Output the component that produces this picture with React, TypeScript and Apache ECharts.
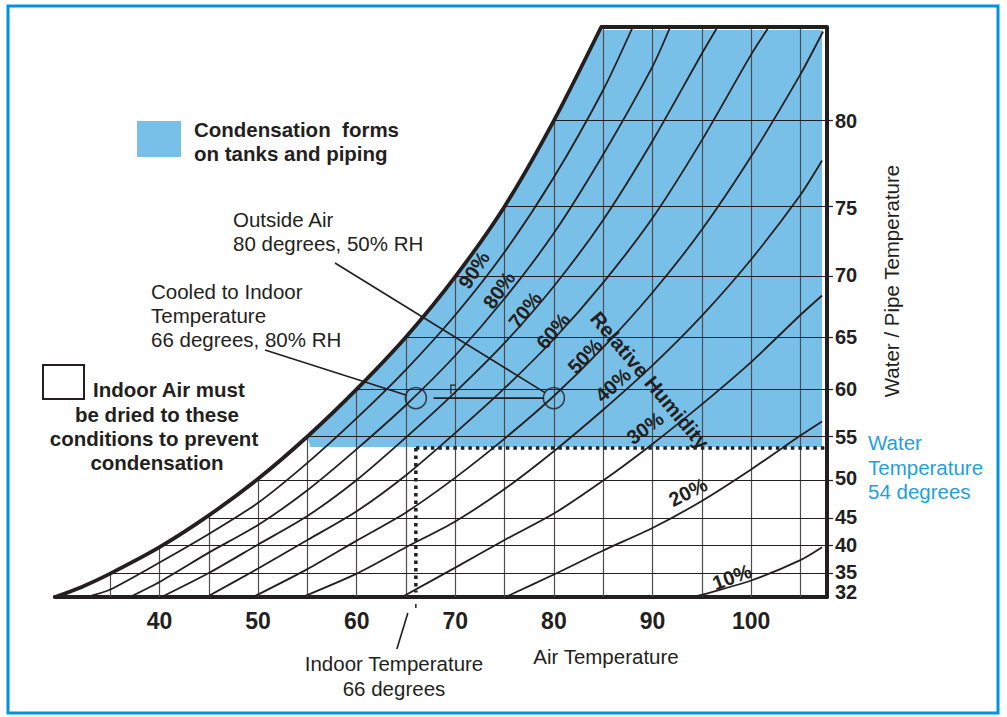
import React, { useEffect, useRef } from "react";
import * as echarts from "echarts";

const FONT = '"Liberation Sans", Arial, Helvetica, sans-serif';
const INK = "#231f20";
const BLUE_FILL = "#79c0e9";
const BLUE_TEXT = "#1f9fdc";
const FRAME_BLUE = "#0095da";

const X_MIN = 29.4;
const X_MAX = 107.7;
const Y_MAX = 190;

// Air temperature (x) tick labels and grid temperatures
const airTempTicks = [40, 50, 60, 70, 80, 90, 100];
const gridTemps = [35, 40, 45, 50, 55, 60, 65, 70, 75, 80, 85, 90, 95, 100, 105];

// Water / pipe (dew point) scale (chart moisture units)
const dewLabels = [32, 35, 40, 45, 50, 55, 60, 65, 70, 75, 80];
const dewLabelPos = [1.7, 8.4, 17.3, 26.8, 39.7, 53.4, 69.3, 86.8, 107.3, 129.7, 158.8];
const dewLineTemps = [35, 40, 45, 50, 55, 60, 65, 70, 75, 80];
const dewLinePos = [7.8, 17.2, 26.3, 38.8, 53.5, 69.3, 86.7, 106.8, 130.2, 158.8];

// Saturation (100 %) curve
const satTemps = [29.4, 32, 35, 40, 45, 50, 55, 60, 65, 70, 75, 80, 84.8];
const satPos = [0, 3.2, 7.8, 16.6, 27.2, 39.4, 53.5, 69.3, 86.7, 106.8, 130.2, 158.8, 190];

// Relative humidity curves
const rh90Temps = [32.6, 35, 40, 45, 50, 55, 60, 65, 70, 75, 80, 85, 88];
const rh90Pos = [0, 2.5, 11.5, 21.0, 31.4, 44.7, 59.6, 75.8, 94.0, 115.0, 139.9, 169.0, 190];
const rh80Temps = [37.0, 40, 45, 50, 55, 60, 65, 70, 75, 80, 85, 90, 91.8];
const rh80Pos = [0, 5.0, 14.8, 24.0, 35.6, 49.3, 64.0, 80.5, 99.5, 121.3, 147.5, 176.8, 190];
const rh70Temps = [40.2, 45, 50, 55, 60, 65, 70, 75, 80, 85, 90, 95, 96.6];
const rh70Pos = [0, 8.0, 17.5, 27.0, 39.0, 53.2, 68.3, 84.7, 103.6, 125.7, 152.0, 181.1, 190];
const rh60Temps = [44.8, 50, 55, 60, 65, 70, 75, 80, 85, 90, 95, 100, 101.8];
const rh60Pos = [0, 9.5, 19.0, 28.6, 40.6, 54.7, 69.6, 86.0, 104.8, 126.3, 152.2, 180.8, 190];
const rh50Temps = [49.5, 55, 60, 65, 70, 75, 80, 85, 90, 95, 100, 105, 107.3];
const rh50Pos = [0, 9.3, 18.8, 28.2, 39.8, 52.8, 67.0, 83.2, 101.5, 122.4, 146.8, 174.2, 188.5];
const rh40Temps = [54.5, 60, 65, 70, 75, 80, 85, 90, 95, 100, 105, 107.2];
const rh40Pos = [0, 7.8, 16.6, 25.2, 36.0, 48.6, 62.4, 77.2, 93.7, 112.5, 134.0, 145.5];
const rh30Temps = [64.6, 70, 75, 80, 85, 90, 95, 100, 105, 107.2];
const rh30Pos = [0, 9.8, 19.0, 27.8, 38.8, 51.0, 64.2, 78.3, 94.0, 100.5];
const rh20Temps = [75.1, 80, 85, 90, 95, 100, 105, 107.2];
const rh20Pos = [0, 7.5, 15.5, 23.0, 32.0, 42.5, 53.8, 58.5];
const rh10Temps = [94.1, 95, 100, 105, 107.2];
const rh10Pos = [0, 0.7, 5.5, 12.3, 16.6];

// Condensation region (blue)
const blueTemps = [55.3, 55, 60, 65, 70, 75, 80, 84.8, 107.2, 107.2];
const bluePos = [50, 53.5, 69.3, 86.7, 106.8, 130.2, 158.8, 189, 189, 50];

// Example states
const waterDewPos = 49.7; // 54 degrees water temperature
const indoorTemp = 66;
const outsideTemp = 80;
const statePos = 66.3;

const rhCurves = [
  { t: rh90Temps, y: rh90Pos },
  { t: rh80Temps, y: rh80Pos },
  { t: rh70Temps, y: rh70Pos },
  { t: rh60Temps, y: rh60Pos },
  { t: rh50Temps, y: rh50Pos },
  { t: rh40Temps, y: rh40Pos },
  { t: rh30Temps, y: rh30Pos },
  { t: rh20Temps, y: rh20Pos },
  { t: rh10Temps, y: rh10Pos },
];

const rhLabels = [
  { text: "90%", x: 474, y: 270, deg: 57 },
  { text: "80%", x: 499, y: 290, deg: 55 },
  { text: "70%", x: 525, y: 310, deg: 52 },
  { text: "60%", x: 553, y: 331, deg: 50 },
  { text: "50%", x: 585, y: 356, deg: 46 },
  { text: "40%", x: 613, y: 385, deg: 42 },
  { text: "30%", x: 645, y: 428, deg: 36 },
  { text: "20%", x: 688, y: 492, deg: 27 },
  { text: "10%", x: 732, y: 577, deg: 20 },
];

const zip = (a: number[], b: number[]) => a.map((v, i) => [v, b[i]]);

function txt(text: string, x: number, y: number, opts: any = {}) {
  const align = opts.align || "left";
  return {
    type: "text",
    x,
    y,
    rotation: opts.rotation || 0,
    z: 50,
    style: {
      text,
      fill: opts.color || INK,
      fontSize: opts.size || 20.5,
      fontWeight: opts.bold ? "bold" : "normal",
      fontFamily: FONT,
      textAlign: align,
      align,
      textVerticalAlign: "middle",
      verticalAlign: "middle",
    },
  };
}

export default function App() {
  const ref = useRef<HTMLDivElement>(null);

  useEffect(() => {
    if (!ref.current) return;
    const chart = echarts.init(ref.current, undefined, { renderer: "svg" });

    const vGrid = gridTemps.map((t) => {
      const idx = satTemps.indexOf(t);
      const top = idx >= 0 ? satPos[idx] : Y_MAX;
      return { coords: [[t, 0], [t, top]] };
    });
    const hGrid = dewLineTemps.map((t, i) => ({
      coords: [[t, dewLinePos[i]], [X_MAX, dewLinePos[i]]],
    }));

    const series: any[] = [
      {
        type: "custom",
        z: 1,
        silent: true,
        clip: false,
        data: [[70, 100]],
        renderItem: (_p: any, api: any) => ({
          type: "polygon",
          shape: { points: blueTemps.map((t, i) => api.coord([t, bluePos[i]])) },
          style: { fill: BLUE_FILL, stroke: "none" },
        }),
      },
      {
        type: "lines",
        coordinateSystem: "cartesian2d",
        z: 2,
        silent: true,
        data: vGrid,
        lineStyle: { color: "#4d4d4f", width: 1.2, opacity: 1 },
      },
      {
        type: "lines",
        coordinateSystem: "cartesian2d",
        z: 2,
        silent: true,
        data: hGrid,
        lineStyle: { color: INK, width: 1.2, opacity: 1 },
      },
      ...rhCurves.map((c) => ({
        type: "line",
        z: 3,
        silent: true,
        clip: false,
        showSymbol: false,
        smooth: 0.25,
        data: zip(c.t, c.y),
        lineStyle: { color: INK, width: 1.8 },
      })),
      {
        type: "line",
        z: 5,
        silent: true,
        clip: false,
        showSymbol: false,
        smooth: 0.25,
        data: zip(satTemps, satPos),
        lineStyle: { color: INK, width: 3.8, cap: "round" },
      },
      {
        type: "line",
        z: 5,
        silent: true,
        clip: false,
        showSymbol: false,
        data: [[satTemps[satTemps.length - 1], Y_MAX], [X_MAX, Y_MAX]],
        lineStyle: { color: INK, width: 4 },
      },
      {
        type: "line",
        z: 4,
        silent: true,
        clip: false,
        showSymbol: false,
        data: [[indoorTemp, waterDewPos], [X_MAX, waterDewPos]],
        lineStyle: { color: INK, width: 3.5, type: [3.5, 4], cap: "butt" },
      },
      {
        type: "line",
        z: 4,
        silent: true,
        clip: false,
        showSymbol: false,
        data: [[indoorTemp, waterDewPos], [indoorTemp, 1.5]],
        lineStyle: { color: INK, width: 3.5, type: [3.5, 4], cap: "butt" },
      },
      {
        type: "line",
        z: 6,
        silent: true,
        showSymbol: false,
        data: [[indoorTemp + 1.8, statePos], [outsideTemp - 1.0, statePos]],
        lineStyle: { color: INK, width: 1.8 },
      },
      {
        type: "scatter",
        z: 7,
        silent: true,
        symbol: "circle",
        symbolSize: 21,
        data: [[indoorTemp, statePos], [outsideTemp, statePos]],
        itemStyle: { color: "rgba(0,0,0,0)", borderColor: INK, borderWidth: 1.6 },
      },
    ];

    chart.setOption({
      animation: false,
      backgroundColor: "#ffffff",
      grid: { left: 55, right: 180, top: 27, bottom: 120, containLabel: false },
      xAxis: {
        type: "value",
        min: X_MIN,
        max: X_MAX,
        axisLine: { show: true, lineStyle: { color: INK, width: 4 } },
        axisTick: { show: false },
        splitLine: { show: false },
        axisLabel: {
          customValues: airTempTicks,
          fontSize: 23,
          fontWeight: "bold",
          fontFamily: FONT,
          color: INK,
          margin: 12,
        },
      },
      yAxis: {
        type: "value",
        min: 0,
        max: Y_MAX,
        position: "right",
        axisLine: { show: true, lineStyle: { color: INK, width: 4 } },
        axisTick: {
          show: true,
          customValues: dewLinePos,
          length: 6,
          inside: false,
          lineStyle: { color: INK, width: 1.2 },
        },
        splitLine: { show: false },
        axisLabel: {
          customValues: dewLabelPos,
          formatter: (v: number) => {
            let best = 0;
            dewLabelPos.forEach((p, i) => {
              if (Math.abs(p - v) < Math.abs(dewLabelPos[best] - v)) best = i;
            });
            return String(dewLabels[best]);
          },
          fontSize: 20,
          fontWeight: "bold",
          fontFamily: FONT,
          color: INK,
          margin: 8,
        },
      },
      series,
    });

    const toPx = (p: number[]) => chart.convertToPixel({ gridIndex: 0 }, p) as number[];
    const cIn = toPx([indoorTemp, statePos]);
    const cOut = toPx([outsideTemp, statePos]);
    const base = toPx([indoorTemp, 0]);
    const edge = (from: number[], c: number[], r: number) => {
      const dx = c[0] - from[0];
      const dy = c[1] - from[1];
      const d = Math.sqrt(dx * dx + dy * dy);
      return [c[0] - (dx / d) * r, c[1] - (dy / d) * r];
    };
    const fromOut = [335, 263];
    const fromIn = [265, 350];
    const eOut = edge(fromOut, cOut, 10.5);
    const eIn = edge(fromIn, cIn, 10.5);

    const graphic: any[] = [
      {
        type: "rect",
        z: 0,
        silent: true,
        shape: { x: 8, y: 6, width: 990, height: 707 },
        style: { fill: "none", stroke: FRAME_BLUE, lineWidth: 3 },
      },
      {
        type: "rect",
        z: 50,
        shape: { x: 137, y: 121, width: 44, height: 36 },
        style: { fill: BLUE_FILL },
      },
      txt("Condensation  forms", 194, 129, { bold: true }),
      txt("on tanks and piping", 194, 153, { bold: true }),
      txt("Outside Air", 233, 219),
      txt("80 degrees, 50% RH", 233, 243),
      txt("Cooled to Indoor", 151, 291),
      txt("Temperature", 151, 315),
      txt("66 degrees, 80% RH", 151, 339),
      {
        type: "rect",
        z: 50,
        shape: { x: 43, y: 365, width: 41, height: 34 },
        style: { fill: "#ffffff", stroke: INK, lineWidth: 2 },
      },
      txt("Indoor Air must", 93, 389, { bold: true }),
      txt("be dried to these", 157, 414, { bold: true, align: "center" }),
      txt("conditions to prevent", 154, 438, { bold: true, align: "center" }),
      txt("condensation", 157, 462, { bold: true, align: "center" }),
      txt("Indoor Temperature", 394, 663, { align: "center" }),
      txt("66 degrees", 394, 688, { align: "center" }),
      txt("Air Temperature", 606, 656, { align: "center" }),
      txt("Water / Pipe Temperature", 891, 281, { align: "center", rotation: Math.PI / 2 }),
      txt("Water", 868, 442, { color: BLUE_TEXT }),
      txt("Temperature", 868, 467, { color: BLUE_TEXT }),
      txt("54 degrees", 868, 491, { color: BLUE_TEXT }),
      ...rhLabels.map((l) =>
        txt(l.text, l.x, l.y, { bold: true, size: 20, align: "center", rotation: (l.deg * Math.PI) / 180 })
      ),
      txt("Relative Humidity", 650, 380, { bold: true, size: 20.5, align: "center", rotation: (-50 * Math.PI) / 180 }),
      {
        type: "line",
        z: 50,
        shape: { x1: fromOut[0], y1: fromOut[1], x2: eOut[0], y2: eOut[1] },
        style: { stroke: INK, lineWidth: 1.6 },
      },
      {
        type: "line",
        z: 50,
        shape: { x1: fromIn[0], y1: fromIn[1], x2: eIn[0], y2: eIn[1] },
        style: { stroke: INK, lineWidth: 1.6 },
      },
      {
        type: "polyline",
        z: 50,
        shape: { points: [[cIn[0] + 35, cIn[1] - 4], [cIn[0] + 35, cIn[1] - 13], [cIn[0] + 40, cIn[1] - 13]] },
        style: { stroke: INK, lineWidth: 1.2, fill: "none" },
      },
      {
        type: "line",
        z: 50,
        shape: { x1: base[0], y1: base[1] + 7, x2: base[0], y2: base[1] + 11 },
        style: { stroke: INK, lineWidth: 1.5 },
      },
      {
        type: "line",
        z: 50,
        shape: { x1: base[0] - 8, y1: base[1] + 16, x2: base[0] - 19, y2: base[1] + 52 },
        style: { stroke: INK, lineWidth: 1.6 },
      },
    ];

    chart.setOption({ graphic });

    return () => chart.dispose();
  }, []);

  return (
    <div
      ref={ref}
      style={{ position: "fixed", left: 0, top: 0, width: 1007, height: 717, background: "#fff" }}
    />
  );
}
